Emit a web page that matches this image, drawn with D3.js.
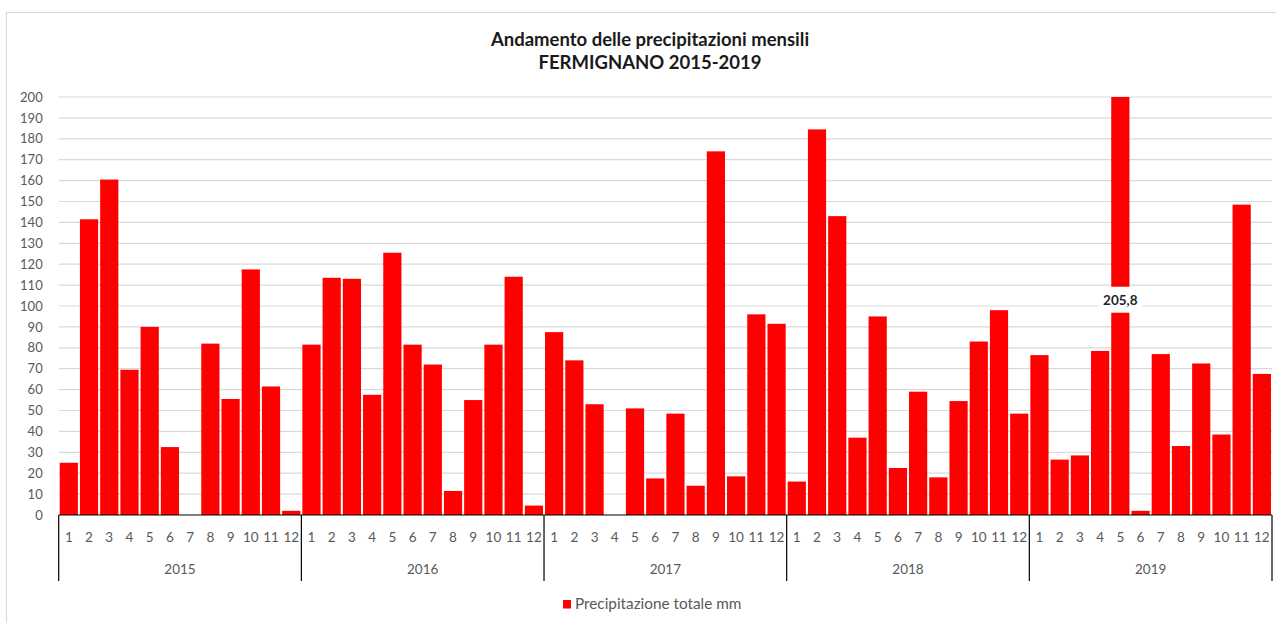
<!DOCTYPE html>
<html>
<head>
<meta charset="utf-8">
<script src="https://cdn.jsdelivr.net/npm/d3@7"></script>
<style>
  body { margin: 0; background: #fff; }
  text { font-family: Lato, "Liberation Sans", sans-serif; }
</style>
</head>
<body>
<div id="chart"></div>
<script>
const years = ["2015", "2016", "2017", "2018", "2019"];
const months = ["1", "2", "3", "4", "5", "6", "7", "8", "9", "10", "11", "12"];
const rain2015 = [25, 141.5, 160.5, 69.5, 90, 32.5, 0, 82, 55.5, 117.5, 61.5, 2];
const rain2016 = [81.5, 113.5, 113, 57.5, 125.5, 81.5, 72, 11.5, 55, 81.5, 114, 4.5];
const rain2017 = [87.5, 74, 53, 0, 51, 17.5, 48.5, 14, 174, 18.5, 96, 91.5];
const rain2018 = [16, 184.5, 143, 37, 95, 22.5, 59, 18, 54.5, 83, 98, 48.5];
const rain2019 = [76.5, 26.5, 28.5, 78.5, 205.8, 2, 77, 33, 72.5, 38.5, 148.5, 67.5];
const yTicks = d3.range(0, 201, 10);
const seriesName = "Precipitazione totale mm";
const titleLines = ["Andamento delle precipitazioni mensili", "FERMIGNANO 2015-2019"];

const allRain = [rain2015, rain2016, rain2017, rain2018, rain2019];
const data = [];
years.forEach((y, yi) => months.forEach((m, mi) => {
    data.push({ key: y + "-" + m, year: y, month: m, value: allRain[yi][mi] });
}));

const width = 1276, height = 623;
const margin = { top: 97, right: 4, bottom: 108, left: 58.7 };
const innerW = width - margin.left - margin.right;
const innerH = height - margin.top - margin.bottom;
const yMax = 200;

const svg = d3.select("#chart").append("svg")
    .attr("width", width)
    .attr("height", height);

// chart frame
svg.append("rect")
    .attr("x", 6.5).attr("y", 12.5)
    .attr("width", width).attr("height", height)
    .attr("fill", "none")
    .attr("stroke", "#d9d9d9");

svg.selectAll(".title")
    .data(titleLines)
    .join("text")
    .attr("class", "title")
    .attr("x", 650)
    .attr("y", (d, i) => 46 + i * 22.5)
    .attr("text-anchor", "middle")
    .style("font-size", "18.5px")
    .style("font-weight", "bold")
    .style("fill", "#1a1a1a")
    .text(d => d);

const g = svg.append("g")
    .attr("transform", `translate(${margin.left},${margin.top})`);

const xScale = d3.scaleBand()
    .domain(data.map(d => d.key))
    .range([0, innerW])
    .paddingInner(0.1)
    .paddingOuter(0.05);

const yScale = d3.scaleLinear().domain([0, yMax]).range([innerH, 0]);

// gridlines
g.selectAll(".grid")
    .data(yTicks.filter(d => d > 0))
    .join("line")
    .attr("class", "grid")
    .attr("x1", 0).attr("x2", innerW)
    .attr("y1", d => yScale(d)).attr("y2", d => yScale(d))
    .attr("stroke", "#d9d9d9")
    .attr("stroke-width", 1.2);

// y axis labels
const yAxis = g.append("g")
    .call(d3.axisLeft(yScale).tickValues(yTicks).tickSize(0).tickPadding(16));
yAxis.select(".domain").remove();
yAxis.selectAll("text")
    .style("font-size", "13px")
    .style("fill", "#595959")
    .style("font-family", "Lato, 'Liberation Sans', sans-serif");

// bars
g.selectAll(".bar")
    .data(data)
    .join("rect")
    .attr("class", "bar")
    .attr("x", d => xScale(d.key))
    .attr("width", xScale.bandwidth())
    .attr("y", d => yScale(Math.min(d.value, yMax)))
    .attr("height", d => innerH - yScale(Math.min(d.value, yMax)))
    .attr("fill", "#ff0000");

// label for the off-scale bar
const big = data.filter(d => d.value > yMax);
const labelAt = 103;
g.selectAll(".bigLabelBg")
    .data(big)
    .join("rect")
    .attr("x", d => xScale(d.key) + xScale.bandwidth() / 2 - 22)
    .attr("y", yScale(labelAt) - 13)
    .attr("width", 44)
    .attr("height", 26)
    .attr("fill", "#fff");
g.selectAll(".bigLabel")
    .data(big)
    .join("text")
    .attr("x", d => xScale(d.key) + xScale.bandwidth() / 2)
    .attr("y", yScale(labelAt) + 5)
    .attr("text-anchor", "middle")
    .style("font-size", "13.5px")
    .style("font-weight", "bold")
    .style("fill", "#262626")
    .text(d => d3.format(".1f")(d.value).replace(".", ","));

// x axis baseline
g.append("line")
    .attr("x1", 0).attr("x2", innerW)
    .attr("y1", innerH).attr("y2", innerH)
    .attr("stroke", "#000").attr("stroke-width", 1.2);

// month labels
g.selectAll(".month")
    .data(data)
    .join("text")
    .attr("class", "month")
    .attr("x", d => xScale(d.key) + xScale.bandwidth() / 2)
    .attr("y", innerH + 27)
    .attr("text-anchor", "middle")
    .style("font-size", "13.5px")
    .style("fill", "#595959")
    .text(d => d.month);

// year groups
const step = xScale.step();
const yearX = (i) => xScale(years[i] + "-1") - step * xScale.paddingInner() / 2;
const yearEnd = (i) => xScale(years[i] + "-12") + xScale.bandwidth() + step * xScale.paddingInner() / 2;
const seps = years.map((y, i) => yearX(i)).concat([yearEnd(years.length - 1)]);
g.selectAll(".sep")
    .data(seps)
    .join("line")
    .attr("x1", d => d).attr("x2", d => d)
    .attr("y1", innerH).attr("y2", innerH + 66)
    .attr("stroke", "#000").attr("stroke-width", 1.2);

g.selectAll(".year")
    .data(years)
    .join("text")
    .attr("class", "year")
    .attr("x", (d, i) => (yearX(i) + yearEnd(i)) / 2)
    .attr("y", innerH + 59)
    .attr("text-anchor", "middle")
    .style("font-size", "13.5px")
    .style("fill", "#595959")
    .text(d => d);

// legend
const legend = svg.append("g").attr("transform", "translate(563,600)");
legend.append("rect").attr("width", 8).attr("height", 8.5).attr("fill", "#ff0000");
legend.append("text")
    .attr("x", 12).attr("y", 9)
    .style("font-size", "15.3px")
    .style("fill", "#595959")
    .text(seriesName);
</script>
</body>
</html>
